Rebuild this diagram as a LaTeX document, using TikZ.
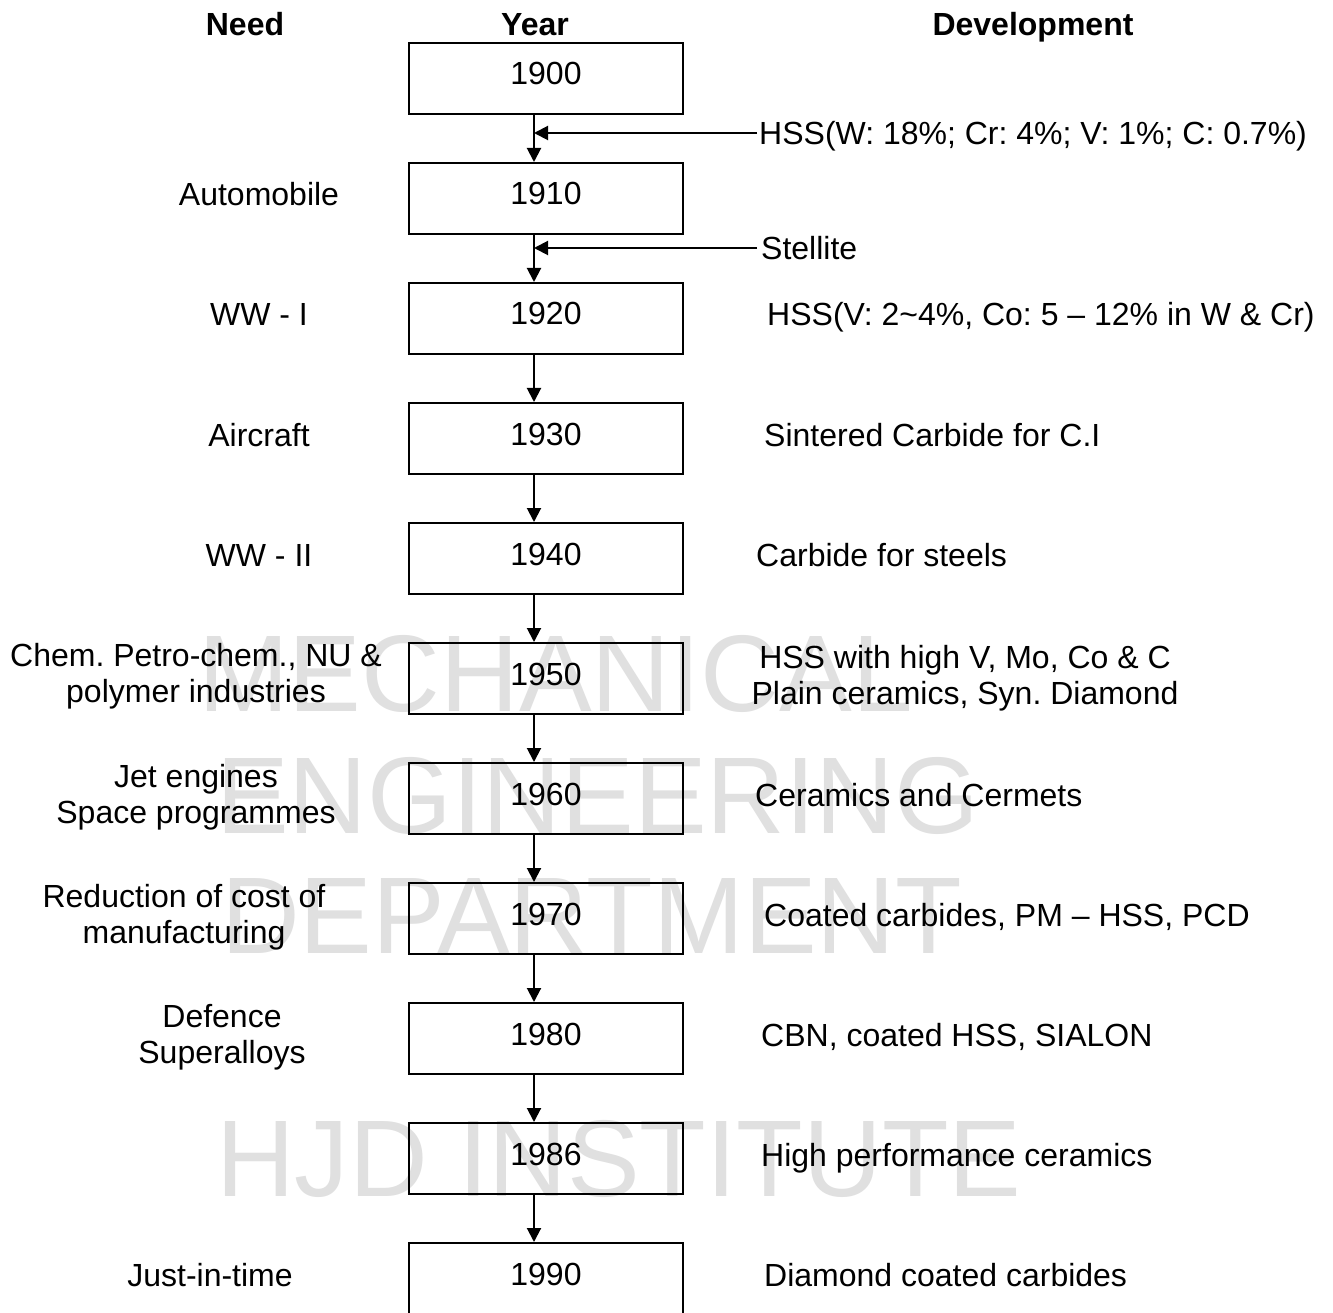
\documentclass[tikz,border=0pt]{standalone}
\usepackage{fontspec}
\setmainfont{Liberation Sans}
\usetikzlibrary{arrows.meta}
\frenchspacing
\tikzset{
  yearbox/.style={draw, line width=2pt, minimum width=274pt, minimum height=71pt,
    inner sep=0pt, text height=23pt, text depth=10pt, font=\fontsize{32}{36}\selectfont},
  lbl/.style={font=\fontsize{32}{36}\selectfont, inner sep=0pt, align=center},
  hdr/.style={font=\bfseries\fontsize{32}{36}\selectfont, inner sep=0pt, anchor=base},
  wm/.style={font=\fontsize{109}{120}\selectfont, text=black!12, inner sep=0pt, anchor=base west},
  flow/.style={line width=2pt, -{Triangle[length=14pt,width=14pt]}},
}
\begin{document}
\begin{tikzpicture}[x=1pt,y=-1pt]
\clip (0,0) rectangle (1333,1313);
\fill[white] (0,0) rectangle (1333,1313);
% watermark
\node[wm] (wm1) at (198,711) {MECHANICAL};
\node[wm] (wm2) at (216,833) {ENGINEERING};
\node[wm] (wm3) at (221,953) {DEPARTMENT};
\node[wm] (wm4) at (216,1196) {HJD INSTITUTE};
% headers
\node[hdr] (hneed) at (245,36) {Need};
\node[hdr] (hyear) at (535,36) {Year};
\node[hdr] (hdev) at (1033,36) {Development};
% axis for arrows
\coordinate (ax) at (534,0);
% boxes
\foreach \i/\yr in {0/1900,1/1910,2/1920,3/1930,4/1940,5/1950,6/1960,7/1970,8/1980,9/1986,10/1990}{
  \node[yearbox] (b\i) at (546,{42+120*\i+36.5}) {\yr};
}
% vertical arrows
\foreach \i [evaluate=\i as \j using int(\i+1)] in {0,...,9}{
  \draw[flow] (b\i.south -| ax) -- (b\j.north -| ax);
}
% side development arrows
\coordinate (h1) at (757,133);
\coordinate (h2) at (757,248);
\draw[flow] (h1) -- (h1 -| ax);
\draw[flow] (h2) -- (h2 -| ax);
% development texts
\node[lbl, anchor=base west] (d0) at (759,145) {HSS(W: 18\%; Cr: 4\%; V: 1\%; C: 0.7\%)};
\node[lbl, anchor=base west] (d1) at (761,260) {Stellite};
\node[lbl, anchor=base west] (d2) at (767,326) {HSS(V: 2\textasciitilde4\%, Co: 5 – 12\% in W \& Cr)};
\node[lbl, anchor=base west] (d3) at (764,446) {Sintered Carbide for C.I};
\node[lbl, anchor=base west] (d4) at (756,566) {Carbide for steels};
\node[lbl, anchor=base] (d5) at (965,704) {HSS with high V, Mo, Co \& C\\Plain ceramics, Syn. Diamond};
\node[lbl, anchor=base west] (d6) at (755,806) {Ceramics and Cermets};
\node[lbl, anchor=base west] (d7) at (764,926) {Coated carbides, PM – HSS, PCD};
\node[lbl, anchor=base west] (d8) at (761,1046) {CBN, coated HSS, SIALON};
\node[lbl, anchor=base west] (d9) at (761,1166) {High performance ceramics};
\node[lbl, anchor=base west] (d10) at (764,1286) {Diamond coated carbides};
% need texts
\node[lbl, anchor=base] (n1) at (259,206) {Automobile};
\node[lbl, anchor=base] (n2) at (259,326) {WW - I};
\node[lbl, anchor=base] (n3) at (259,446) {Aircraft};
\node[lbl, anchor=base] (n4) at (259,566) {WW - II};
\node[lbl, anchor=base] (n5) at (196,702) {Chem. Petro-chem., NU \&\\polymer industries};
\node[lbl, anchor=base] (n6) at (196,823) {Jet engines\\Space programmes};
\node[lbl, anchor=base] (n7) at (184,943) {Reduction of cost of\\manufacturing};
\node[lbl, anchor=base] (n8) at (222,1063) {Defence\\Superalloys};
\node[lbl, anchor=base] (n10) at (210,1286) {Just-in-time};
\end{tikzpicture}
\end{document}
